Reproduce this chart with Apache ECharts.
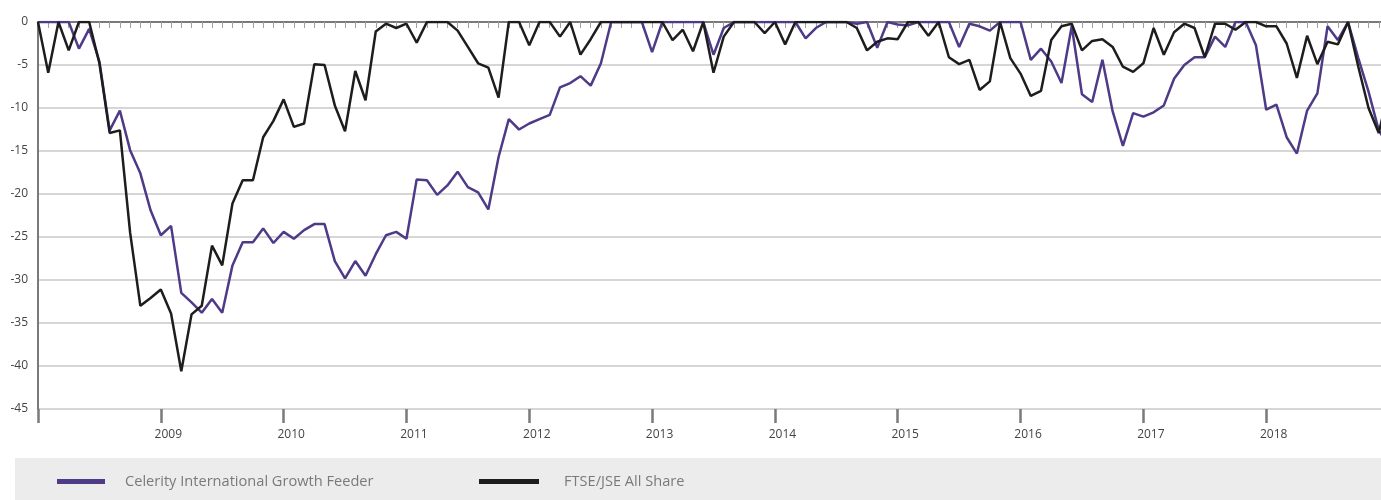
<!DOCTYPE html>
<html>
<head>
<meta charset="utf-8" />
<title>Drawdown</title>
<script src="https://cdn.jsdelivr.net/npm/echarts@6/dist/echarts.min.js"></script>
<style>
  * { padding: 0; margin: 0; }
  html, body { background: #fff; overflow: hidden; width: 1381px; height: 500px; }
  /* canvas is a bit wider than the window: the last month falls just past the right edge */
  #main { width: 1395px; height: 500px; }
</style>
</head>
<body>
<div id="main"></div>
<script type="text/javascript">
// monthly points, Jan 2008 .. Jan 2019
var startYear = 2008;
var yearLabels = ['2009', '2010', '2011', '2012', '2013', '2014', '2015', '2016', '2017', '2018'];
var seriesNames = ['Celerity International Growth Feeder', 'FTSE/JSE All Share'];

var celerity = [
  0, 0, 0, 0, -3.1, -0.8, -4.6, -12.6, -10.3, -14.9, -17.6, -21.9,
  -24.8, -23.7, -31.5, -32.6, -33.8, -32.2, -33.8, -28.3, -25.6, -25.6, -24.0, -25.7,
  -24.4, -25.2, -24.2, -23.5, -23.5, -27.8, -29.8, -27.8, -29.5, -27.0, -24.8, -24.4,
  -25.2, -18.3, -18.4, -20.1, -19.0, -17.4, -19.2, -19.8, -21.8, -15.7, -11.3, -12.5,
  -11.8, -11.3, -10.8, -7.6, -7.1, -6.3, -7.4, -4.8, 0, 0, 0, 0,
  -3.5, 0, 0, 0, 0, 0, -3.8, -0.7, 0, 0, 0, 0,
  0, 0, 0, -1.9, -0.7, 0, 0, 0, -0.2, 0, -3.0, 0,
  -0.3, -0.4, 0, 0, 0, 0, -2.9, -0.2, -0.5, -1.0, 0, 0,
  0, -4.4, -3.1, -4.6, -7.1, -0.5, -8.4, -9.3, -4.4, -10.4, -14.4, -10.6,
  -11.0, -10.5, -9.7, -6.6, -5.0, -4.1, -4.1, -1.7, -2.9, 0, 0, -2.7,
  -10.2, -9.6, -13.4, -15.3, -10.3, -8.3, -0.5, -2.1, 0, -4.2, -8.1, -12.6,
  -14.5
];

var ftse = [
  0, -5.9, 0, -3.3, 0, 0, -4.8, -12.9, -12.6, -24.5, -33.0, -32.1,
  -31.1, -33.9, -40.6, -34.0, -33.0, -26.0, -28.3, -21.1, -18.4, -18.4, -13.4, -11.5,
  -9.0, -12.2, -11.8, -4.9, -5.0, -9.7, -12.7, -5.7, -9.1, -1.1, -0.2, -0.7,
  -0.2, -2.4, 0, 0, 0, -1.0, -2.9, -4.8, -5.3, -8.8, 0, 0,
  -2.7, 0, 0, -1.7, 0, -3.8, -2.0, 0, 0, 0, 0, 0,
  0, 0, -2.1, -0.9, -3.4, 0, -5.9, -1.7, 0, 0, 0, -1.3,
  0, -2.6, 0, 0, 0, 0, 0, 0, -0.7, -3.3, -2.3, -1.9,
  -2.0, 0, 0, -1.6, 0, -4.1, -4.9, -4.4, -7.9, -6.9, 0, -4.2,
  -6.0, -8.6, -8.0, -2.1, -0.5, -0.2, -3.3, -2.2, -2.0, -2.9, -5.2, -5.8,
  -4.8, -0.7, -3.8, -1.2, -0.2, -0.7, -4.1, -0.2, -0.2, -0.9, 0, 0,
  -0.5, -0.5, -2.5, -6.5, -1.6, -4.9, -2.3, -2.6, 0, -5.2, -10.0, -12.9,
  -7.8
];

var months = [];
for (var i = 0; i < ftse.length; i++) {
  var y = startYear + Math.floor(i / 12);
  var m = (i % 12) + 1;
  months.push(y + '-' + (m < 10 ? '0' + m : m));
}

var font = 'Open Sans';
var myChart = echarts.init(document.getElementById('main'));

var option = {
  backgroundColor: '#fff',
  animation: false,
  textStyle: { fontFamily: font },
  graphic: [{
    type: 'rect',
    z: -10,
    shape: { x: 15, y: 458, width: 1380, height: 42 },
    style: { fill: '#ececec' }
  }],
  legend: [{
    data: [seriesNames[0]],
    left: 57, top: 474,
    padding: 0,
    icon: 'rect',
    itemWidth: 48, itemHeight: 5,
    textStyle: { color: '#7a7a7a', fontSize: 14.6, fontFamily: font, padding: [2, 0, 0, 15] }
  }, {
    data: [seriesNames[1]],
    left: 479, top: 474,
    padding: 0,
    icon: 'rect',
    itemWidth: 60, itemHeight: 5,
    textStyle: { color: '#7a7a7a', fontSize: 14.6, fontFamily: font, padding: [2, 0, 0, 20] }
  }],
  grid: { left: 38, top: 22, width: 1351, height: 387, containLabel: false },
  xAxis: [{
    type: 'category',
    data: months,
    boundaryGap: false,
    axisLine: { show: true, lineStyle: { color: '#7a7a7a', width: 2 } },
    axisTick: { show: true, interval: 0, length: 6, lineStyle: { color: '#a0a0a0', width: 1 } },
    axisLabel: { show: false },
    splitLine: { show: false }
  }, {
    type: 'category',
    data: months,
    position: 'bottom',
    boundaryGap: false,
    axisLine: { show: false },
    axisTick: {
      show: true, length: 14,
      interval: function (idx) { return idx % 12 === 0; },
      lineStyle: { color: '#7a7a7a', width: 2.5 }
    },
    axisLabel: {
      show: true, margin: 20,
      color: '#444', fontSize: 12, fontFamily: font,
      padding: [0, 0, 0, 15],
      interval: function (idx) { return idx % 12 === 0 && idx > 0; },
      formatter: function (v, idx) { return yearLabels[idx / 12 - 1] || ''; }
    },
    splitLine: { show: false }
  }],
  yAxis: {
    type: 'value',
    min: -45, max: 0, interval: 5,
    axisLine: { show: true, lineStyle: { color: '#7a7a7a', width: 2 } },
    axisTick: { show: false },
    axisLabel: { color: '#444', fontSize: 12, fontFamily: font, margin: 10 },
    splitLine: { show: true, lineStyle: { color: '#c8c8c8', width: 1.5 } }
  },
  series: [{
    name: seriesNames[0],
    type: 'line',
    data: celerity,
    showSymbol: false,
    symbol: 'none',
    z: 3,
    itemStyle: { color: '#4e3a87' },
    lineStyle: { color: '#4e3a87', width: 2.5 }
  }, {
    name: seriesNames[1],
    type: 'line',
    data: ftse,
    showSymbol: false,
    symbol: 'none',
    z: 4,
    itemStyle: { color: '#1d1d1d' },
    lineStyle: { color: '#1d1d1d', width: 2.5 }
  }]
};

myChart.setOption(option);
</script>
</body>
</html>
